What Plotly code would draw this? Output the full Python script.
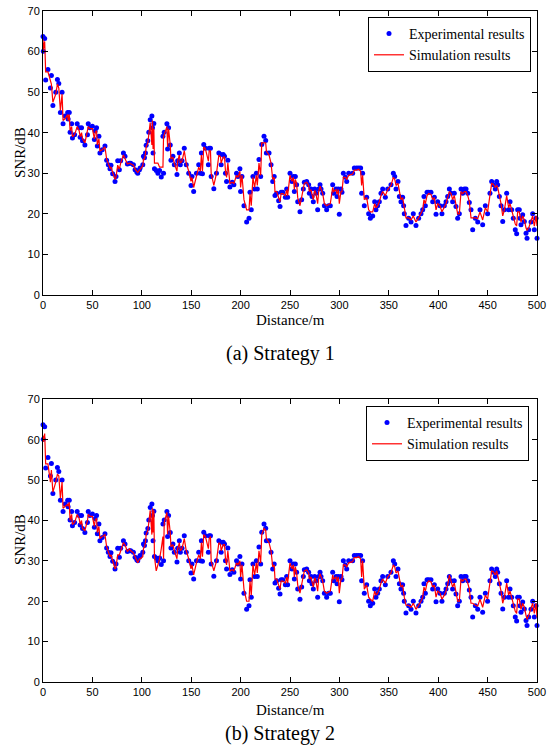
import plotly.graph_objects as go

distance = [
    0, 0.3, 1.7, 2.7, 5, 7.5, 8.5, 10, 12.9, 14.6,
    16, 17.6, 19.3, 20.3, 22.4, 25, 25.4, 26.6, 27.4, 29,
    29.8, 32, 34.6, 36.6, 37.6, 39, 40, 42.4, 45, 45.8,
    47.5, 50, 52, 52.8, 54.2, 55, 56.6, 57.6, 60, 62.7,
    64.4, 66.1, 67.8, 68.8, 70.5, 72.9, 73.9, 75.6, 77.3, 78.6,
    81.4, 83, 85.4, 87.5, 88.8, 91.5, 93.2, 94.9, 95.9, 97.6,
    98.3, 101, 101.7, 102.7, 103.7, 104.4, 106.1, 107.1, 108.5, 110.2,
    110.8, 111.4, 112.2, 112.8, 114.6, 116.3, 118, 119.7, 121.4, 122,
    122.7, 125.4, 126.1, 127.1, 128.8, 129.5, 131.5, 132.9, 135.6, 136.3,
    138, 139, 140.7, 143, 145, 147.5, 149.8, 150.8, 152.5, 155.3,
    157.6, 159.3, 160.3, 161.4, 162.7, 164.4, 167.4, 168.2, 169.5, 170.2,
    172.9, 175.6, 178, 179.7, 180.3, 182.4, 183.7, 184.7, 185.8, 187.1,
    189.2, 191.5, 193.2, 195.9, 197.3, 199.3, 200, 201.4, 203.4, 206.1,
    208.5, 209.5, 210.8, 212.5, 214.2, 215.9, 216.9, 218.6, 220.3, 221.4,
    223.7, 225.4, 226.1, 228.8, 230.8, 232.5, 234, 234.8, 236.5, 238.5,
    239.9, 241, 242.6, 245.3, 246.6, 247.6, 250, 252, 253.4, 254.4,
    255.4, 256.7, 257.8, 260.1, 261.8, 263.5, 264.5, 266.9, 268.9, 269.6,
    271.3, 272.3, 273.6, 275, 276.3, 278, 279, 280.4, 281.4, 283.1,
    284.8, 287.1, 289.1, 290.8, 293.2, 294.2, 296.6, 297.6, 298.9, 299.9,
    301.6, 302.6, 304, 306, 307.4, 309.4, 313.4, 315.1, 317.5, 319.5,
    321.5, 322.5, 323.5, 325.2, 327.6, 329.6, 331.3, 333.7, 335.7, 337,
    338.7, 340.4, 342.1, 343.8, 346.5, 348.9, 352.2, 354.6, 356, 357.3,
    359.3, 360.7, 362.3, 364, 365, 365.7, 367.4, 370.1, 372.5, 374.8,
    377.5, 380.2, 382.6, 384.3, 385.6, 387, 388.7, 390.4, 392.7, 394.4,
    396.1, 397.8, 399.5, 401.8, 403.8, 406.2, 407.9, 409.6, 411.3, 413,
    414.6, 416.3, 418, 419.7, 421.4, 423.1, 424.8, 426.5, 428.2, 429.9,
    431.5, 433.2, 434.9, 437.6, 440, 442.3, 445, 447.7, 450, 452.4,
    454.1, 455.8, 457.8, 459.2, 460.2, 461.9, 463.6, 465.3, 467, 469.3,
    471.3, 472.7, 474.4, 476, 478, 479.4, 480.4, 482.1, 482.8, 483.8,
    485.5, 487.2, 488.9, 489.9, 491.6, 493.9, 495.6, 497.3, 499, 500,
]

experimental_snr = [
    63.7, 60.1, 63.2, 53, 55.6, 51, 54.1, 46.7, 50, 53.1,
    52.1, 45, 50, 42.2, 44.1, 45, 43.4, 45, 40.1, 42.2,
    38.7, 39.5, 42.2, 41.2, 38.9, 41.2, 38, 37, 39.5, 42.2,
    41.2, 41.6, 38.3, 40.4, 41.2, 36.7, 39.1, 35, 35.8, 36.7,
    33.2, 32.1, 31.1, 32, 29.9, 28, 29.2, 33.1, 30.9, 33.1,
    35, 34.2, 32.3, 32.5, 32.5, 32.1, 30.9, 30.3, 30, 30.9,
    31.3, 32.1, 34.2, 33.8, 35, 36.9, 38, 40.1, 43.2, 44.1,
    41.2, 35, 42.3, 31.1, 30.7, 30, 30.7, 29.1, 39.1, 30,
    40.1, 42.2, 36, 41.2, 37, 33.2, 34.2, 32.1, 29.7, 33.1,
    35, 32.1, 33.1, 36.2, 32.1, 30, 27, 29.2, 25.5, 30,
    32.1, 30, 35, 29.9, 37.1, 36.2, 32.1, 36.2, 36.2, 29.2,
    26.2, 30, 35, 34.6, 32.1, 34.6, 34.2, 30, 28, 33.2,
    26.6, 27.8, 27.2, 30, 29.2, 31.1, 25.5, 29.2, 22, 18,
    18.9, 25.3, 21, 29.2, 26.1, 30, 26.1, 33.4, 29.2, 37.1,
    39.1, 38.1, 35, 35, 32.1, 28, 29.2, 24.5, 25.1, 23.2,
    21.8, 25.3, 25.3, 24.1, 26.1, 24.1, 30, 28, 29.2, 25.5,
    29.2, 27.2, 23, 20.5, 23.5, 26.1, 27.8, 28, 27.2, 25.1,
    26.1, 24.3, 23, 26.1, 25.1, 21, 26.1, 27.2, 26.1, 25.1,
    22, 21, 22, 22, 27.2, 25.1, 26.1, 24.3, 26.1, 19.9,
    26.1, 25.3, 30, 29, 28, 30, 30, 31.3, 31.3, 31.3,
    31.3, 25.1, 30, 22, 24.1, 20, 18.9, 19.5, 23, 21,
    22, 23, 25.1, 26.1, 24.1, 26.1, 27.2, 30, 29.2, 26.1,
    28, 24.3, 23, 24.1, 22, 20, 17.1, 18.9, 18, 20,
    17.1, 18.9, 20, 21, 24.3, 22, 25.3, 25.3, 25.3, 23,
    24.1, 19.9, 23, 22, 20, 22, 23, 24.3, 26.1, 25.1,
    23, 25.1, 21.8, 18.9, 20, 26.1, 25.1, 26.1, 26.1, 25.1,
    22.8, 21, 16.1, 18.9, 18, 21, 17.3, 22, 20, 25.1,
    28, 27.2, 26.1, 28, 27.2, 24.3, 22, 18.1, 21, 25.1,
    21, 23, 21, 18.9, 16.1, 15.1, 21, 21, 18.9, 17.3,
    19.8, 18.1, 15.2, 14, 16.1, 18, 20, 16.1, 18.9, 14,
]

simulation_snr_1 = [
    63.0, 60.5, 62.5, 55, 55, 52.5, 52, 47.5, 49.5, 52,
    51, 45.5, 49.5, 43, 43.5, 44.5, 43, 44.5, 40.5, 41.5,
    39, 39.5, 41.5, 40.5, 39, 40, 38.5, 37.5, 40, 41.5,
    41, 41, 38.5, 40, 40.5, 37, 38.5, 35.5, 35.8, 36.5,
    33.5, 32.5, 31.3, 31.5, 30, 28.5, 29, 32, 31, 32.5,
    34.5, 33.5, 32.3, 32.5, 32.3, 32, 31, 30.5, 30.2, 30.8,
    31, 31.8, 33.5, 33.5, 34.8, 36.5, 37.5, 39.5, 42.5, 37,
    43, 36, 41, 32.5, 32.5, 32.5, 31.5, 31.5, 31.5, 39,
    39.5, 41.5, 36.5, 41, 37, 33.5, 34, 32.5, 30.5, 33,
    34.5, 32.5, 33, 35.5, 32.5, 30.5, 28, 29, 26.5, 29.5,
    31.5, 30.5, 34.5, 30.5, 36.5, 36, 33, 35.5, 35.5, 30,
    27, 30, 34.5, 34, 32.5, 34, 34, 30.5, 29, 32.5,
    27.5, 27.8, 27.5, 29.5, 29, 30.5, 26.5, 29.5, 23.5, 21,
    21, 25, 22, 29, 26.5, 29.5, 27, 32.5, 29.5, 37.5,
    37.5, 37.5, 35.5, 34.5, 32.5, 28.5, 29, 25.5, 25.5, 24,
    23, 25, 25, 24.5, 26, 24.5, 29.5, 28, 29, 26,
    28.5, 27.5, 24, 22, 24, 26, 27.5, 27.8, 27, 25.5,
    26, 24.8, 23.5, 25.8, 25, 22.5, 25.5, 26.8, 26, 25,
    22.5, 22, 22.3, 22.5, 26.5, 25.5, 26, 24.8, 26, 22.5,
    25.5, 25.5, 29, 29, 28.5, 29.5, 29.8, 30.8, 30.8, 31,
    30.5, 27, 29.5, 23.5, 24, 21, 20.5, 20.5, 22.5, 21.5,
    22, 23, 24.5, 25.5, 24.5, 26, 27, 29, 28.5, 27,
    27.5, 25, 23.5, 24, 22.5, 21, 19, 19, 18.5, 19.5,
    18, 19, 20, 21, 23.5, 22.5, 24.5, 25, 24.8, 23.5,
    24, 21, 22.5, 22, 20.5, 21.5, 22.5, 24, 25.5, 25,
    23.5, 24.5, 22.5, 20, 20, 25.5, 25, 25.5, 25.5, 24.5,
    23, 19, 19, 19, 18.8, 20.5, 18.5, 21.5, 20.5, 24.5,
    27.5, 27.3, 26.5, 27, 26.5, 24.5, 22.5, 19.5, 21, 24.5,
    21.5, 22.5, 21, 19.5, 17.5, 17, 20.5, 20.5, 19, 18,
    19.5, 18.5, 16.5, 16, 16.5, 18, 19.5, 17, 19.5, 17,
]

simulation_snr_2 = [
    61.0, 59.5, 61.5, 54, 54, 49.5, 52.5, 47, 49.5, 51.5,
    51, 45.5, 49.5, 43, 43.5, 44, 43.5, 44.5, 40, 41.5,
    39, 39.5, 41.5, 40.5, 39, 40, 38, 37.5, 40, 41.5,
    41, 41, 38.5, 40, 40.5, 37, 38.5, 35.5, 36, 36.5,
    33.5, 32, 31, 31.5, 30, 28, 28.5, 31.5, 31.5, 32.5,
    34.5, 34, 32.3, 33, 32.5, 32, 31, 30, 29.5, 30.5,
    30.5, 31, 33, 33.5, 34.5, 36.5, 37.5, 39.5, 42.5, 36.5,
    43, 37, 42.5, 31, 27.5, 29, 30.5, 33, 36, 30.5,
    39.5, 42, 36.5, 41, 37, 33.5, 34, 32.5, 30.5, 33,
    34.5, 32.5, 33, 35.5, 32.5, 30.5, 28, 29, 26.5, 29.5,
    31.5, 30.5, 34.5, 31, 36.5, 36, 33, 35.5, 36, 30,
    27.5, 30, 34.5, 34, 32.5, 34, 34, 30.5, 29, 32.5,
    27.5, 27.8, 27.5, 29.5, 29, 30, 26, 29, 23, 20,
    20, 25, 21.5, 29, 26.5, 29.5, 27, 32.5, 29.5, 36.5,
    38, 37.5, 35.5, 34.5, 32.5, 28.5, 29, 25.5, 25.5, 24,
    23, 25, 25, 24.5, 26, 24.5, 29.5, 28, 29, 26,
    28.5, 27, 24, 22, 24, 26, 27.5, 27.8, 27, 25.5,
    26, 24.8, 23.5, 25.8, 25, 22.5, 25.5, 26.8, 26, 25,
    22.5, 22, 22.3, 22.5, 26.5, 25.5, 26, 24.8, 26, 22,
    25.5, 25.5, 29, 29, 28.5, 29.5, 29.8, 30.8, 30.8, 31,
    30.5, 26, 30, 23, 24, 21, 20.5, 20, 22.5, 21.5,
    22, 23, 24.5, 25.5, 24.5, 26, 27, 29, 28.5, 27,
    27.5, 25, 23.5, 24, 22, 21, 19, 19, 18.5, 19.5,
    18, 19, 20, 21, 23.5, 22.5, 24.5, 25, 24.8, 23.5,
    24, 21, 22.5, 22, 20.5, 21.5, 22.5, 24, 26.5, 25,
    23.5, 24.5, 22.5, 20, 20, 25.5, 25, 25.5, 25.5, 24.5,
    23, 19.5, 19.5, 19, 18.8, 20.5, 18.5, 21.5, 20.5, 24.5,
    27.5, 27.3, 26.5, 27.5, 26.5, 24.5, 22.5, 19.5, 21, 24.5,
    21.5, 22.5, 21, 19.5, 17.5, 17, 20.5, 20.5, 19, 18,
    19.5, 18.5, 16.5, 15.5, 16.5, 18, 19.5, 17, 19.5, 16,
]

x_ticks = [0, 50, 100, 150, 200, 250, 300, 350, 400, 450, 500]
y_ticks = [0, 10, 20, 30, 40, 50, 60, 70]

serif = "Liberation Serif, Times New Roman, serif"
sans = "Liberation Sans, Arial, sans-serif"

fig = go.Figure()

panels = [
    ("x", "y", "legend", simulation_snr_1),
    ("x2", "y2", "legend2", simulation_snr_2),
]
for xa, ya, lg, sim in panels:
    fig.add_trace(go.Scatter(
        x=distance, y=experimental_snr, mode="markers", name="Experimental results",
        marker=dict(color="#0000ff", size=5, line=dict(width=0)),
        xaxis=xa, yaxis=ya, legend=lg, cliponaxis=False,
    ))
    fig.add_trace(go.Scatter(
        x=distance, y=sim, mode="lines", name="Simulation results",
        line=dict(color="#ff0000", width=1.2),
        xaxis=xa, yaxis=ya, legend=lg,
    ))

axis_common = dict(
    showline=True, linecolor="black", linewidth=1, mirror="ticks",
    ticks="inside", ticklen=5, tickcolor="black", showgrid=False, zeroline=False,
    automargin=False,
    tickfont=dict(family=sans, size=11, color="black"),
)
L, R, T, B = 43, 10, 11, 65
W, HT = 547, 747
H = HT - T - B
top_dom = [1 - 284 / H, 1]
bot_dom = [0, 1 - 388.3 / H]

fig.update_layout(
    width=W, height=HT,
    margin=dict(l=L, r=R, t=T, b=B, autoexpand=False),
    plot_bgcolor="white", paper_bgcolor="white",
    showlegend=True,
    xaxis=dict(domain=[0, 1], range=[0, 500], tickvals=x_ticks, anchor="y", **axis_common),
    yaxis=dict(domain=top_dom, range=[0, 70], tickvals=y_ticks, anchor="x", **axis_common),
    xaxis2=dict(domain=[0, 1], range=[0, 500], tickvals=x_ticks, anchor="y2", **axis_common),
    yaxis2=dict(domain=bot_dom, range=[0, 70], tickvals=y_ticks, anchor="x2", **axis_common),
    legend=dict(
        x=(531 - L) / (W - L - R), y=1 - (17 - T) / H, xanchor="right", yanchor="top",
        xref="paper", yref="paper",
        bgcolor="white", bordercolor="black", borderwidth=1,
        font=dict(family=serif, size=14, color="black"), tracegroupgap=0,
    ),
    legend2=dict(
        x=(529 - L) / (W - L - R), y=1 - (406 - T) / H, xanchor="right", yanchor="top",
        xref="paper", yref="paper",
        bgcolor="white", bordercolor="black", borderwidth=1,
        font=dict(family=serif, size=14, color="black"), tracegroupgap=0,
    ),
)

annotations = [
    dict(text="SNR/dB", x=20, y=153, textangle=-90, size=15),
    dict(text="SNR/dB", x=20, y=540, textangle=-90, size=15),
    dict(text="Distance/m", x=290, y=320, size=15),
    dict(text="Distance/m", x=290, y=710, size=15),
    dict(text="(a) Strategy 1", x=280, y=353, size=20),
    dict(text="(b) Strategy 2", x=280, y=733, size=20),
]
for a in annotations:
    fig.add_annotation(
        text=a["text"], xref="paper", yref="paper",
        x=(a["x"] - L) / (W - L - R), y=1 - (a["y"] - T) / H,
        xanchor="center", yanchor="middle", showarrow=False,
        textangle=a.get("textangle", 0),
        font=dict(family=serif, size=a.get("size", 14), color="black"),
    )

fig.write_html(
    "out.html",
    config={"displayModeBar": False},
    post_script="document.body.style.margin='0';document.body.style.padding='0';document.body.style.overflow='hidden';",
)
